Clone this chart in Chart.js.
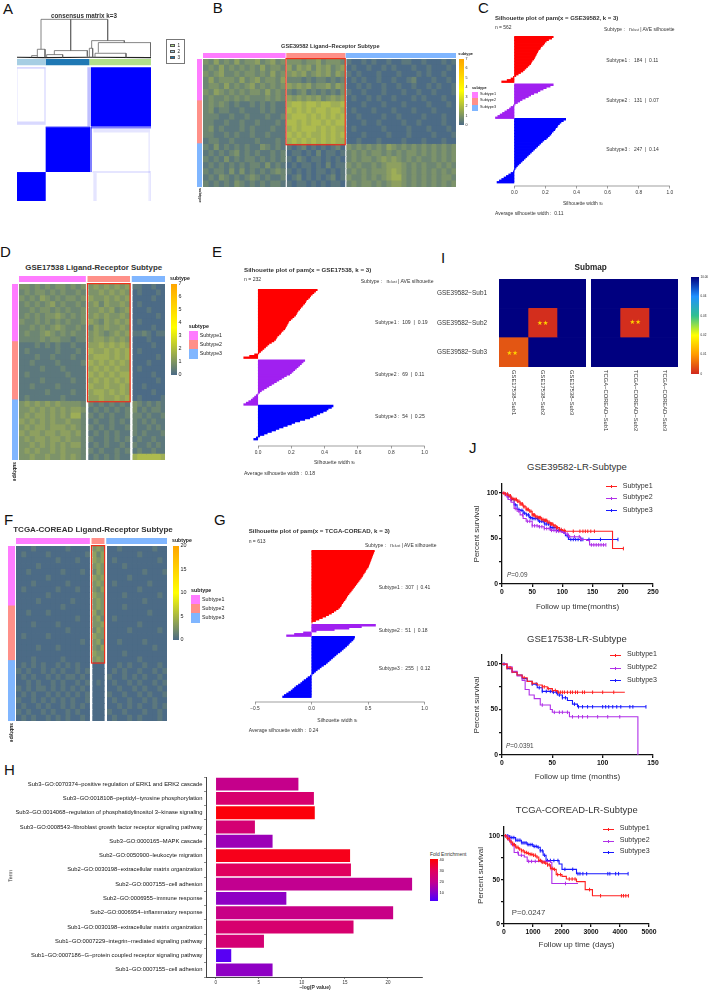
<!DOCTYPE html>
<html>
<head>
<meta charset="utf-8">
<title>Ligand-receptor subtypes</title>
<script src="https://cdn.jsdelivr.net/npm/chart.js@4/dist/chart.umd.js"></script>
<style>
  html, body { margin: 0; background: #fff; }
  #fig { position: relative; width: 710px; height: 991px; overflow: hidden; font-family: "Liberation Sans", Arial, sans-serif; color: #222; }
  #fig canvas { position: absolute; }
  .t { position: absolute; white-space: nowrap; line-height: 1; }
  .t sub { font-size: 70%; vertical-align: -12%; line-height: 0; }
  .b { position: absolute; }
</style>
</head>
<body>
<div id="fig"></div>
<script>
// ---- data ----

// panel A, consensus matrix blocks: x0, x1, y0, y1, opacity of blue
const consensusX0 = [273, 137, 51, 262, 268, 273, 137, 51, 51, 133, 51, 280, 445, 278, 280, 450, 133];
const consensusX1 = [453, 270, 137, 273, 276, 453, 270, 137, 137, 137, 54, 450, 450, 453, 290, 453, 137];
const consensusY0 = [202, 382, 517, 202, 382, 380, 380, 202, 365, 206, 206, 386, 398, 514, 520, 520, 517];
const consensusY1 = [380, 517, 604, 380, 517, 386, 383, 206, 375, 365, 365, 398, 604, 520, 604, 604, 604];
const consensusA = [1, 1, 1, 0.25, 0.5, 0.5, 0.7, 0.2, 0.15, 0.15, 0.06, 0.1, 0.08, 0.1, 0.1, 0.1, 0.3];
const clusterX0 = [51, 137, 268];
const clusterX1 = [137, 268, 453];
const clusterColors = ["#a6cee3", "#1f78b4", "#b2df8a"];
const dendroX = [123, 123, 323, 323, null, 212, 212, null, 112, 112, 135, 135, null, 163, 163, 262, 262, null, 140, 140, 188, 188, null, 95, 95, 112, null, 275, 275, 373, 373, null, 295, 295, 452, 452, null, 285, 285, 378, 378, null, 268, 268, 278, 278];
const dendroY = [148, 58, 58, 122, null, 58, 152, null, 172, 148, 148, 172, null, 164, 152, 152, 170, null, 172, 164, 164, 172, null, 172, 167, 167, null, 145, 122, 122, 128, null, 158, 128, 128, 170, null, 172, 160, 160, 172, null, 172, 145, 145, 172];
const dendroBaseX = [51, 137, 268, 453];
const dendroBaseY = [172, 173, 172, 173];

// heatmaps: one string per row, one digit per cell (0 low .. 9 high), space between column groups
const heatB = [
  "3242324233423423 333233423332 1001010010011001000101",
  "2324232323242332 424342434234 0100100101000100100010",
  "3234223233232423 343423434243 1010001000100010100100",
  "2423332423423324 222121221212 0101001001001200010010",
  "2332423234232323 434342334243 0010100100100100101001",
  "3243232323324232 212312121213 1001000100010010010001",
  "2322323232223232 434343423434 0100101001000101000100",
  "2323212112121211 566566566556 0001000100010000100010",
  "2312211211121211 656565665665 0100010001000100010000",
  "2221121121112112 566656565656 0010000100100001000100",
  "2211211211211121 665656656566 0001001000010010000100",
  "2312111212111211 565666565655 0100000100001000100010",
  "2211212112112111 656565565656 0001000010001000010001",
  "1221121111211121 565656565655 0010001000010001000100",
  "2131212121132121 101201010120 3232323243232323232323",
  "1212123121211212 011010201101 2323233232323323232323",
  "2121312122121212 102101101010 2323323434323232232323",
  "1212121212213121 010110102011 3232232344432323223232",
  "2122131312121232 101010110101 2323233345432323232323",
  "1213212123212112 012010101201 3223232345532323232332",
  "2121213212121221 101101010110 2323323234432323232323"
];
const heatD = [
  "3323232332323 34343434 1100100",
  "2323323232232 33434343 0100010",
  "3232432323323 43343434 0000100",
  "2323234232232 34243343 0100000",
  "2232332323223 33434234 0001000",
  "2323233432323 34343343 0000010",
  "3223232323223 43243434 0100000",
  "2232323432232 24343343 0000100",
  "2322343232322 34323434 1121011",
  "2222323322122 34434343 0001000",
  "1112121211211 44545454 0000100",
  "1211111211121 54454545 0100000",
  "1112112111211 45554545 0000010",
  "1121111211112 54545454 0001000",
  "1111211121111 45454544 0100000",
  "1211111112111 54545455 0000100",
  "1111211111211 45454545 0000010",
  "1121111211111 54454454 0010000",
  "1111121111211 45545454 0000100",
  "1211111121111 44544545 0100001",
  "3434343433332 21212121 3212121",
  "3343434343443 12121212 3121221",
  "3434434343552 21212112 2212112",
  "4343434334332 12112121 2121211",
  "3434434443432 21212112 2112121",
  "4344344344342 12121211 2121112",
  "3434434434332 21121212 1211211",
  "3343434343442 12121121 2112121",
  "3434334343332 21211212 1211211",
  "3343343343432 12121211 5666665"
];
const heatF = [
  "000100000010000 343 001000000100",
  "010000100000001 424 000000100000",
  "000000001000100 434 010000000010",
  "000010000000000 343 000100000000",
  "001000000100010 243 000000010001",
  "000000100000000 434 000010000000",
  "000100000010000 343 010000001000",
  "010000001000100 324 000000100000",
  "000000100000000 433 000100000010",
  "000010000001000 343 000000010000",
  "000000000100000 343 000100000000",
  "001000100000000 423 000000001000",
  "000000000000100 342 010000000000",
  "000100001000000 334 000000100000",
  "000000000010000 243 000010000010",
  "010000100000000 433 000000000000",
  "000000000000010 342 001000010000",
  "000010001000000 324 000000000100",
  "000000000000000 433 000100000000",
  "000100000100000 343 000000100000",
  "010101001010100 000 001010010010",
  "101001010100101 000 010100100101",
  "010100101011010 000 100101010010",
  "001010010100101 010 010010100101",
  "101011010101010 000 001001010010",
  "010100101010101 000 100100101001",
  "100101010101001 000 010010010100",
  "010010100101010 000 001010100101",
  "101001010010100 000 100100010010",
  "010100101010010 000 010010100010"
];
const subtypeColors = ["#ff7cff", "#ff9089", "#80b6ff"];

// silhouette widths, one list per subtype, top to bottom
const silC1 = [.25, .24, .22, .205, .195, .19, .18, .17, .165, .155, .15, .145, .14, .135, .13, .125, .115, .11, .105, .095, .085, .075, .065, .055, .04, .025, .01, -.005, -.02, -.045, -.08];
const silC2 = [.25, .23, .205, .185, .165, .15, .125, .105, .09, .07, .05, .035, .02, .005, -.005, -.02, -.03, -.045, -.06, -.075, -.09, -.105, -.12];
const silC3 = [.33, .315, .30, .29, .28, .275, .265, .26, .25, .24, .235, .225, .215, .205, .19, .18, .17, .16, .15, .14, .13, .12, .11, .10, .09, .08, .07, .06, .05, .04, .03, .02, .012, .005, 0, -.005, -.02, -.035, -.05, -.065, -.08, -.095, -.11];
const silE1 = [.355, .345, .335, .325, .315, .31, .30, .29, .285, .28, .27, .265, .255, .25, .24, .235, .23, .225, .215, .205, .195, .185, .18, .175, .17, .165, .16, .15, .14, .135, .125, .115, .11, .105, .095, .08, .065, .055, .045, .035, .025, .015, .005, -.02, -.05, -.085];
const silE2 = [.28, .27, .26, .25, .24, .23, .22, .21, .20, .19, .17, .155, .14, .125, .11, .095, .08, .065, .05, .035, .02, .01, 0, -.01, -.02, -.03, -.04, -.055, -.07, -.085];
const silE3 = [.45, .44, .42, .41, .39, .37, .35, .33, .31, .28, .25, .22, .20, .175, .15, .125, .105, .08, .055, .035, .01, -.01, -.025];
const silG1 = [.555, .55, .545, .54, .535, .53, .525, .52, .515, .51, .505, .50, .49, .48, .475, .465, .455, .45, .44, .43, .42, .41, .40, .39, .38, .37, .36, .35, .34, .33, .32, .31, .305, .295, .285, .275, .265, .26, .25, .235, .215, .195, .175, .15, .125, .095, .065, .035, .005];
const silG2 = [.565, .44, .33, .20, .04, -.07, -.15, -.22];
const silG3 = [.38, .375, .365, .35, .335, .325, .31, .295, .28, .265, .25, .23, .215, .20, .185, .17, .155, .14, .125, .105, .085, .07, .05, .035, .02, .005, -.01, -.03, -.045, -.065, -.08, -.095, -.115, -.135, -.15, -.165, -.18, -.20, -.22, -.24, -.255];
const silColors = ["#ff0000", "#a020f0", "#0000ff"];

// submap p values
const submapRows = ["GSE39582\u2212Sub1", "GSE39582\u2212Sub2", "GSE39582\u2212Sub3"];
const submapLeftCols = ["GSE17538\u2212Sub1", "GSE17538\u2212Sub2", "GSE17538\u2212Sub3"];
const submapRightCols = ["TCGA\u2212COREAD\u2212Sub1", "TCGA\u2212COREAD\u2212Sub2", "TCGA\u2212COREAD\u2212Sub3"];
const submapLeft = [[.05, .05, .05], [.05, .0005, .05], [.004, .05, .05]];
const submapRight = [[.05, .05, .05], [.05, .0005, .05], [.05, .05, .05]];

// GO enrichment
const goTerms = [
  "Sub3\u2212GO:0070374\u2212positive regulation of ERK1 and ERK2 cascade",
  "Sub3\u2212GO:0018108\u2212peptidyl\u2212tyrosine phosphorylation",
  "Sub3\u2212GO:0014068\u2212regulation of phosphatidylinositol 3\u2212kinase signaling",
  "Sub3\u2212GO:0008543\u2212fibroblast growth factor receptor signaling pathway",
  "Sub3\u2212GO:0000165\u2212MAPK cascade",
  "Sub2\u2212GO:0050900\u2212leukocyte migration",
  "Sub2\u2212GO:0030198\u2212extracellular matrix organization",
  "Sub2\u2212GO:0007155\u2212cell adhesion",
  "Sub2\u2212GO:0006955\u2212immune response",
  "Sub2\u2212GO:0006954\u2212inflammatory response",
  "Sub1\u2212GO:0030198\u2212extracellular matrix organization",
  "Sub1\u2212GO:0007229\u2212integrin\u2212mediated signaling pathway",
  "Sub1\u2212GO:0007186\u2212G\u2212protein coupled receptor signaling pathway",
  "Sub1\u2212GO:0007155\u2212cell adhesion"
];
const goLogP = [9.6, 11.4, 11.5, 4.55, 6.6, 15.6, 15.7, 22.8, 8.2, 20.6, 16.0, 5.6, 1.8, 6.6];
const goFold = [21, 27, 40, 26, 14, 38, 30, 20, 12, 22, 27, 26, 5, 12];
const foldTicks = [10, 20, 30, 40];

// survival curves: time, percent survival, censor times
const j1T1 = [0, 5, 10, 15, 20, 25, 30, 35, 40, 45, 50, 55, 60, 65, 70, 75, 80, 85, 90, 95, 100, 105, 183, 201];
const j1S1 = [100, 99, 97, 94, 93, 91, 88, 85, 82, 80, 76, 74, 73, 71, 70, 68, 66, 64, 62, 60, 59, 58, 39, 39];
const j1C1 = [3, 6, 9, 12, 14, 16, 18, 20, 22, 24, 26, 28, 30, 32, 34, 36, 38, 40, 42, 44, 46, 48, 50, 52, 54, 56, 58, 60, 62, 64, 66, 68, 70, 72, 74, 76, 78, 80, 82, 84, 86, 88, 90, 92, 95, 98, 103, 118, 129, 134, 138, 142, 147, 153, 201];
const j1T2 = [0, 5, 10, 15, 20, 25, 30, 35, 40, 50, 60, 70, 80, 90, 100, 105, 110, 130, 140, 145, 172];
const j1S2 = [100, 97, 93, 90, 83, 80, 76, 72, 69, 64, 63, 61, 59, 58, 57, 55, 52, 49, 48, 43, 43];
const j1C2 = [8, 14, 22, 28, 34, 42, 46, 50, 54, 58, 62, 66, 70, 74, 78, 82, 86, 90, 94, 98, 102, 108, 112, 120, 128, 131, 148, 152, 156, 160, 164, 168, 172];
const j1T3 = [0, 5, 10, 15, 20, 25, 30, 35, 40, 45, 50, 60, 70, 80, 90, 100, 105, 110, 192];
const j1S3 = [100, 99, 96, 93, 87, 82, 81, 78, 76, 73, 72, 69, 66, 62, 59, 57, 53, 49, 49];
const j1C3 = [10, 16, 22, 28, 33, 37, 41, 44, 47, 50, 53, 56, 59, 62, 65, 68, 71, 74, 77, 80, 83, 86, 90, 94, 98, 103, 108, 114, 118, 122, 126, 130, 132, 134, 144, 163, 192];

const j2T1 = [0, 5, 10, 15, 20, 25, 30, 35, 40, 45, 50, 55, 122];
const j2S1 = [100, 96, 91, 88, 85, 81, 79, 77, 75, 73, 71, 69, 69];
const j2C1 = [5, 8, 22, 30, 40, 42, 46, 50, 53, 56, 58, 60, 62, 65, 68, 70, 73, 75, 80, 82, 90, 100, 111];
const j2T2 = [0, 5, 10, 15, 20, 23, 27, 32, 38, 48, 50, 67, 135];
const j2S2 = [100, 97, 92, 87, 82, 72, 66, 62, 55, 50, 47, 42, 0];
const j2C2 = [5, 10, 40, 52, 57, 60, 65, 70, 76, 80, 85, 95, 105, 117];
const j2T3 = [0, 5, 10, 15, 20, 25, 30, 35, 40, 50, 55, 60, 65, 70, 75, 143];
const j2S3 = [100, 95, 91, 88, 84, 81, 78, 74, 70, 69, 66, 63, 60, 56, 53, 53];
const j2C3 = [2, 30, 34, 37, 40, 44, 48, 51, 54, 57, 60, 63, 72, 76, 80, 85, 90, 100, 103, 106, 110, 114, 118, 127, 130, 143];

const j3T1 = [0, 100, 200, 300, 400, 500, 600, 700, 800, 900, 1000, 1100, 1200, 1300, 1400, 1500, 1600, 1700, 1800, 2000, 2150, 2500, 2800, 3050, 4300];
const j3S1 = [100, 97, 93, 90, 87, 85, 83, 81, 80, 79, 78, 76, 72, 70, 69, 67, 63, 62, 56, 54, 51, 48, 39, 32, 32];
const j3C1 = [50, 120, 180, 240, 300, 360, 420, 480, 540, 600, 660, 720, 780, 840, 900, 960, 1020, 1080, 1140, 1200, 1260, 1320, 1380, 1440, 1500, 1560, 1620, 1680, 1740, 1850, 1950, 2250, 2350, 2450, 2950, 3330, 4050, 4120, 4200, 4290];
const j3T2 = [0, 150, 250, 350, 500, 700, 800, 1600, 1650, 2550];
const j3S2 = [100, 95, 90, 81, 78, 76, 71, 70, 46, 46];
const j3C2 = [200, 330, 480, 600, 850, 950, 1080, 1300, 2120];
const j3T3 = [0, 200, 400, 600, 800, 1000, 1150, 1250, 1350, 1450, 1900, 2000, 2500, 4280];
const j3S3 = [100, 98, 95, 92, 90, 88, 87, 83, 78, 72, 68, 62, 57, 57];
const j3C3 = [60, 130, 200, 270, 340, 410, 480, 550, 620, 690, 760, 830, 900, 970, 1040, 1110, 1180, 1250, 1320, 1400, 1500, 1600, 1720, 1860, 2100, 2370, 2550, 2620, 2720, 2850, 3580, 3650, 3850, 3950, 4280];

// ---- helpers ----
Chart.defaults.font.family = '"Liberation Sans", Arial, sans-serif';
Chart.defaults.color = "#222";
Chart.defaults.devicePixelRatio = 1;

const fig = document.getElementById("fig");

function txt(text, x, y, o = {}) {
  const el = document.createElement("div");
  el.className = "t";
  el.innerHTML = text;
  el.style.fontSize = (o.size || 5) + "px";
  if (o.bold) el.style.fontWeight = "bold";
  if (o.color) el.style.color = o.color;
  if (o.font) el.style.fontFamily = o.font;
  el.style.left = x + "px";
  el.style.top = y + "px";
  if (o.vertical) {
    el.style.writingMode = "vertical-rl";
    el.style.transform = "translateX(-50%)";
  } else if (o.rotate) {
    el.style.transform = `translate(-50%,-50%) rotate(${o.rotate}deg)`;
  } else {
    el.style.transform = o.center ? "translate(-50%,-50%)" : "translateY(-50%)";
  }
  fig.appendChild(el);
}

function box(x, y, w, h, color, border) {
  const el = document.createElement("div");
  el.className = "b";
  el.style.cssText = `left:${x}px;top:${y}px;width:${w}px;height:${h}px;box-sizing:border-box;` +
    (color ? `background:${color};` : "") + (border ? `border:${border};` : "");
  fig.appendChild(el);
}

function blank(extra) {
  return { display: true, grid: { display: false }, ticks: { display: false }, border: { display: false }, ...extra };
}

function noPadding(s) {
  s.paddingTop = s.paddingBottom = s.paddingLeft = s.paddingRight = 0;
}

// area = [left, top, right, bottom] of the plot on the page, pad = room round it for the axes
function makeChart(area, pad, config) {
  const c = document.createElement("canvas");
  const w = area[2] - area[0] + pad.l + pad.r;
  const h = area[3] - area[1] + pad.t + pad.b;
  c.width = Math.round(w);
  c.height = Math.round(h);
  c.style.left = area[0] - pad.l + "px";
  c.style.top = area[1] - pad.t + "px";
  c.style.width = Math.round(w) + "px";
  c.style.height = Math.round(h) + "px";
  fig.appendChild(c);
  const scales = config.options.scales;
  const yRight = scales.y.position === "right";
  scales.x.afterFit = (s) => { s.height = pad.b; noPadding(s); };
  scales.y.afterFit = (s) => { s.width = yRight ? pad.r : pad.l; noPadding(s); };
  config.options = {
    responsive: false,
    animation: false,
    layout: { autoPadding: false, padding: { top: pad.t, left: yRight ? pad.l : 0, right: yRight ? 0 : pad.r, bottom: 0 } },
    ...config.options,
    plugins: { legend: { display: false }, tooltip: { enabled: false }, ...(config.options.plugins || {}) }
  };
  return new Chart(c.getContext("2d"), config);
}

function mix(a, b, t) {
  return a.map((v, i) => Math.round(v + (b[i] - v) * t));
}
function hexRgb(h) {
  return [1, 3, 5].map((i) => parseInt(h.substr(i, 2), 16));
}
function ramp(stops, v) {
  for (let i = 1; i < stops.length; i++) {
    if (v <= stops[i][0]) {
      const t = (v - stops[i - 1][0]) / (stops[i][0] - stops[i - 1][0]);
      return "rgb(" + mix(hexRgb(stops[i - 1][1]), hexRgb(stops[i][1]), Math.max(t, 0)).join(",") + ")";
    }
  }
  return stops[stops.length - 1][1];
}

const SLATE = [76, 107, 134];
const YELLOW = [240, 240, 40];
function levelColor(d) {
  return "rgb(" + mix(SLATE, YELLOW, d / 10).join(",") + ")";
}

const redBox = {
  id: "redBox",
  afterDatasetsDraw(chart, args, o) {
    if (!o.x0 && !o.x1) return;
    const { x, y } = chart.scales;
    const ctx = chart.ctx;
    ctx.save();
    ctx.strokeStyle = "#f03018";
    ctx.lineWidth = 1.2;
    const left = x.getPixelForValue(o.x0) - 0.4;
    const right = x.getPixelForValue(o.x1) + 0.4;
    const top = chart.chartArea.top - 0.4;
    const bottom = y.getPixelForValue(o.rows - 0.5) + 0.4;
    ctx.strokeRect(left, top, right - left, bottom - top);
    ctx.restore();
  }
};

function heatChart(area, rows, widths, gap, boxRows) {
  const parsed = rows.map((r) => r.split(" "));
  const datasets = [];
  let pos = 0, x0 = 0, x1 = 0;
  widths.forEach((w, g) => {
    if (g === 1) x0 = pos;
    const n = parsed[0][g].length;
    for (let c = 0; c < n; c++) {
      datasets.push({ data: parsed.map(() => w / n), backgroundColor: parsed.map((r) => levelColor(+r[g][c])) });
    }
    pos += w;
    if (g === 1) x1 = pos;
    if (g < widths.length - 1) {
      datasets.push({ data: parsed.map(() => gap), backgroundColor: "#fff" });
      pos += gap;
    }
  });
  makeChart(area, { l: 2, t: 2, r: 2, b: 2 }, {
    type: "bar",
    plugins: [redBox],
    data: { labels: rows.map((r, i) => i), datasets },
    options: {
      indexAxis: "y",
      datasets: { bar: { barPercentage: 1, categoryPercentage: 1, borderWidth: 0, inflateAmount: 0.4 } },
      scales: { x: blank({ stacked: true, min: 0, max: pos }), y: blank({ stacked: true }) },
      plugins: { redBox: { x0, x1, rows: boxRows } }
    }
  });
}

function strip(area, sizes, colors, vertical) {
  const total = sizes.reduce((a, b) => a + b, 0);
  makeChart(area, { l: 0, t: 0, r: 0, b: 0 }, {
    type: "bar",
    data: {
      labels: [""],
      datasets: sizes.map((s, i) => ({ data: [s], backgroundColor: colors[i] }))
    },
    options: {
      indexAxis: vertical ? "x" : "y",
      datasets: { bar: { barPercentage: 1, categoryPercentage: 1, borderWidth: 0 } },
      scales: {
        x: vertical ? blank({ stacked: true }) : blank({ stacked: true, min: 0, max: total }),
        y: vertical ? blank({ stacked: true, min: 0, max: total, reverse: true }) : blank({ stacked: true })
      }
    }
  });
}

function colorBar(area, padR, min, max, stops, ticks, size, labels) {
  makeChart(area, { l: 0, t: 3, r: padR, b: 3 }, {
    type: "bar",
    data: {
      labels: [""],
      datasets: [{
        data: [[min, max]],
        barPercentage: 1,
        categoryPercentage: 1,
        backgroundColor: (c) => {
          const a = c.chart.chartArea;
          if (!a) return "#000";
          const g = c.chart.ctx.createLinearGradient(0, a.bottom, 0, a.top);
          stops.forEach((s) => g.addColorStop(s[0], s[1]));
          return g;
        }
      }]
    },
    options: {
      scales: {
        x: blank(),
        y: {
          position: "right", min, max,
          grid: { display: false, drawTicks: false }, border: { display: false },
          afterBuildTicks: (s) => { s.ticks = ticks.map((value) => ({ value })); },
          ticks: { font: { size }, padding: 1.5, color: "#222", callback: (v) => labels ? labels[ticks.indexOf(v)] : v }
        }
      }
    }
  });
}

// R style axis: line only from first to last tick
const rAxis = {
  id: "rAxis",
  afterDraw(chart) {
    const s = chart.scales.x;
    const ctx = chart.ctx;
    ctx.save();
    ctx.strokeStyle = "#777";
    ctx.lineWidth = 0.7;
    ctx.beginPath();
    ctx.moveTo(s.getPixelForValue(s.ticks[0].value), s.top);
    ctx.lineTo(s.getPixelForValue(s.ticks[s.ticks.length - 1].value), s.top);
    ctx.stroke();
    ctx.restore();
  }
};

function silhouette(area, xMin, xMax, ticks, groups, gaps, blankRows) {
  const rows = [];
  const sets = groups.map(() => []);
  groups.forEach((g, k) => {
    g.forEach((v) => {
      sets.forEach((s, j) => s.push(j === k ? v : null));
      rows.push(rows.length);
    });
    for (let i = 0; i < gaps[k]; i++) {
      sets.forEach((s) => s.push(null));
      rows.push(rows.length);
    }
  });
  for (let i = 0; i < blankRows; i++) {
    sets.forEach((s) => s.push(null));
    rows.push(rows.length);
  }
  makeChart(area, { l: 10, t: 1, r: 6, b: 16 }, {
    type: "bar",
    plugins: [rAxis],
    data: {
      labels: rows,
      datasets: sets.map((data, i) => ({ data, backgroundColor: silColors[i] }))
    },
    options: {
      indexAxis: "y",
      datasets: { bar: { grouped: false, barPercentage: 1, categoryPercentage: 1, borderWidth: 0, inflateAmount: 0.4 } },
      scales: {
        y: blank(),
        x: {
          min: xMin, max: xMax,
          border: { display: false },
          grid: { drawOnChartArea: false, drawTicks: true, tickLength: 2.5, color: "#777", lineWidth: 0.7 },
          afterBuildTicks: (s) => { s.ticks = ticks.map((value) => ({ value })); },
          ticks: { font: { size: 4.8 }, padding: 1.5, color: "#333", maxRotation: 0, autoSkip: false, callback: (v) => v.toFixed(1).replace("-", "\u2212") }
        }
      }
    }
  });
}

function stepAt(T, S, t) {
  let v = S[0];
  T.forEach((x, i) => { if (x <= t) v = S[i]; });
  return v;
}

const kmColors = ["#ff2020", "#b030e8", "#1818ff"];

function km(area, pad, xMax, xStep, curves, xTitle) {
  const datasets = [];
  curves.forEach((c, i) => {
    datasets.push({
      data: c[0].map((x, k) => ({ x, y: c[1][k] })),
      showLine: true, stepped: true, borderColor: kmColors[i], borderWidth: 1.1, pointRadius: 0
    });
    datasets.push({
      data: c[2].map((x) => ({ x, y: stepAt(c[0], c[1], x) })),
      showLine: false, pointStyle: "line", rotation: 90, pointRadius: 1.8, pointBorderColor: kmColors[i], borderColor: kmColors[i], pointBorderWidth: 1, clip: false
    });
  });
  const axis = {
    border: { color: "#111", width: 1.3 },
    grid: { drawOnChartArea: false, drawTicks: true, tickLength: 3, color: "#111", lineWidth: 1.3 }
  };
  makeChart(area, pad, {
    type: "scatter",
    data: { datasets },
    options: {
      scales: {
        x: {
          ...axis, min: 0, max: xMax,
          ticks: { stepSize: xStep, font: { size: 6.8, weight: "bold" }, color: "#111", padding: 1, maxRotation: 0, callback: (v) => String(v) },
          title: { display: true, text: xTitle, font: { size: 8 }, color: "#333", padding: 0 }
        },
        y: {
          ...axis, min: 0, max: 110,
          ticks: { stepSize: 25, includeBounds: false, font: { size: 6.8, weight: "bold" }, color: "#111", padding: 1, callback: (v) => (v % 50 === 0 ? String(v) : "") },
          title: { display: true, text: "Percent survival", font: { size: 8 }, color: "#333", padding: 0 }
        }
      }
    }
  });
}

function kmLegend(x0, x1, textX, ys) {
  ys.forEach((y, i) => {
    box(x0, y - 0.4, x1 - x0, 0.9, kmColors[i]);
    box((x0 + x1) / 2 - 0.4, y - 1.5, 0.8, 3, kmColors[i]);
    txt("Subtype" + (i + 1), textX, y, { size: 7.1, color: "#333" });
  });
}

function subtypeLegend(x, titleY, swatchY, swatchW, swatchH, labelX, size) {
  txt("subtype", x, titleY, { size: size, bold: true });
  subtypeColors.forEach((col, i) => {
    box(x, swatchY + i * swatchH, swatchW, swatchH, col);
    txt("Subtype" + (i + 1), labelX, swatchY + (i + 0.5) * swatchH, { size: size });
  });
}

// ---- panel letters ----
[["A", 3, 8], ["B", 212.7, 7], ["C", 478, 7], ["D", 0, 251], ["E", 212, 251], ["F", 4, 519], ["G", 214, 519], ["H", 4, 769], ["I", 441, 257], ["J", 469, 447]]
  .forEach((p) => txt(p[0], p[1], p[2], { size: 15, color: "#111" }));

// ---- A ----
{
  const sets = [];
  consensusX0.forEach((x0, i) => {
    const x1 = consensusX1[i];
    sets.push({
      data: [{ x: (x0 + x1) / 2, y: [consensusY0[i], consensusY1[i]] }],
      barThickness: (x1 - x0) / 3, backgroundColor: `rgba(0,0,255,${consensusA[i]})`, stack: "a"
    });
  });
  clusterX0.forEach((x0, i) => {
    const x1 = clusterX1[i];
    sets.push({
      data: [{ x: (x0 + x1) / 2, y: [177, 196] }],
      barThickness: (x1 - x0) / 3, backgroundColor: clusterColors[i], stack: "a"
    });
  });
  sets.push({
    type: "line", data: dendroX.map((x, i) => ({ x, y: dendroY[i] })),
    borderColor: "#666", borderWidth: 0.8, pointRadius: 0, spanGaps: false
  });
  sets.push({
    type: "line", data: dendroBaseX.map((x, i) => ({ x, y: dendroBaseY[i] })),
    borderColor: "#222", borderWidth: 1.2, pointRadius: 0
  });
  makeChart([17, 18, 151, 201.3], { l: 1, t: 1, r: 1, b: 1 }, {
    type: "bar",
    data: { datasets: sets },
    options: {
      datasets: { bar: { borderWidth: 0, inflateAmount: 0 } },
      scales: {
        x: blank({ type: "linear", min: 51, max: 453, stacked: true, offset: false }),
        y: blank({ min: 54, max: 604, reverse: true, stacked: false })
      }
    }
  });
  txt("consensus matrix k=3", 84, 16, { size: 6.3, bold: true, center: true, color: "#333" });
  box(166, 38.7, 19, 25.3, null, "0.7px solid #777");
  ["#b2df8a", "#a6cee3", "#1f78b4"].forEach((c, i) => {
    box(170.3, 43.7 + i * 6.1, 4.7, 3.6, c, "0.4px solid #555");
    txt(String(i + 1), 177.5, 45.5 + i * 6.1, { size: 4.6 });
  });
}

// ---- B ----
{
  txt("GSE39582 Ligand\u2212Receptor Subtype", 330.3, 47, { size: 5.6, bold: true, center: true, color: "#333" });
  strip([202.7, 52.7, 455.7, 57.3], [82.3, 1.3, 58.4, 1, 110], [subtypeColors[0], "rgba(0,0,0,0)", subtypeColors[1], "rgba(0,0,0,0)", subtypeColors[2]]);
  strip([197.3, 59, 202, 187], [41, 43, 44], subtypeColors, true);
  heatChart([202.7, 59, 455.7, 187], heatB, [82.3, 58.4, 110], 1.15, 14);
  txt("subtype", 198.7, 188, { size: 3.8, vertical: true, bold: true });
  txt("subtype", 458.3, 55, { size: 3.8, bold: true });
  colorBar([459.3, 59, 464, 125], 10, 0, 7, [[0, "#4c6b86"], [0.52, "#ffff00"], [1, "#ffa500"]], [0, 1, 2, 3, 4, 5, 6, 7], 3.6);
  subtypeLegend(472, 89.3, 92, 6.2, 6.3, 480, 3.8);
}

// ---- D ----
{
  txt("GSE17538 Ligand-Receptor Subtype", 93.7, 268.3, { size: 7.9, bold: true, center: true, color: "#333" });
  strip([19.3, 275.7, 165.7, 282], [66.7, 2.3, 42, 2.4, 33], [subtypeColors[0], "rgba(0,0,0,0)", subtypeColors[1], "rgba(0,0,0,0)", subtypeColors[2]]);
  strip([11.7, 283.7, 17.7, 460], [57, 58.3, 61], subtypeColors, true);
  heatChart([19.3, 283.7, 165.7, 460], heatD, [66.7, 42, 33], 2.35, 20);
  txt("subtype", 14.7, 462, { size: 5, vertical: true, bold: true });
  txt("subtype", 170, 279, { size: 5.2, bold: true });
  colorBar([171, 283.7, 177, 375], 12, 0, 7, [[0, "#4c6b86"], [0.52, "#ffff00"], [1, "#ffa500"]], [0, 1, 2, 3, 4, 5, 6, 7], 5.4);
  subtypeLegend(188.7, 327, 331, 9, 9.2, 199.7, 5.3);
}

// ---- F ----
{
  txt("TCGA-COREAD Ligand-Receptor Subtype", 93, 530, { size: 8, bold: true, center: true, color: "#333" });
  strip([16.3, 538, 167, 544], [73.4, 2.3, 12.3, 2.4, 60.3], [subtypeColors[0], "rgba(0,0,0,0)", subtypeColors[1], "rgba(0,0,0,0)", subtypeColors[2]]);
  strip([8.3, 545.7, 15, 721], [59.3, 54.7, 61.3], subtypeColors, true);
  heatChart([16.3, 545.7, 167, 721], heatF, [73.4, 12.3, 60.3], 2.35, 20);
  txt("subtype", 11, 723, { size: 5, vertical: true, bold: true });
  txt("subtype", 172, 541.3, { size: 5.2, bold: true });
  colorBar([173, 545.7, 179.3, 640], 12, 0, 20, [[0, "#4c6b86"], [0.5, "#ffff00"], [1, "#ffa500"]], [0, 5, 10, 15, 20], 5.4);
  subtypeLegend(191, 590.7, 595, 9, 9.2, 202, 5.3);
}

// ---- C E G ----
function silhouetteText(x, title, n, ave, hx, hy, lines, lx, titleSize, size, axisX, axisY, aveY) {
  txt("Silhouette plot of pam(x = " + title + ", k = 3)", x, lines.titleY, { size: titleSize, bold: true, color: "#333" });
  txt("n = " + n, x, lines.nY, { size: size, color: "#333" });
  txt("Subtype :&nbsp;&nbsp; n<sub>clust</sub> | AVE silhouette", hx, hy, { size: size, color: "#333" });
  lines.rows.forEach((r) => txt(r[0], lx, r[1], { size: size, color: "#333" }));
  txt("Silhouette width s<sub>i</sub>", axisX, axisY, { size: size, center: true, color: "#333" });
  txt("Average silhouette width :&nbsp; " + ave, x, aveY, { size: size, color: "#333" });
}

silhouette([493.5, 36, 672.4, 186], -0.13, 1.02, [0, .2, .4, .6, .8, 1], [silC1, silC2, silC3], [1, 0, 0], 2);
silhouetteText(495, "GSE39582", 562, "0.11", 604, 30, {
  titleY: 17.7, nY: 27.7,
  rows: [["Subtype1 :&nbsp;&nbsp; 184&nbsp; |&nbsp; 0.11", 60.7], ["Subtype2 :&nbsp;&nbsp; 131&nbsp; |&nbsp; 0.07", 101], ["Subtype3 :&nbsp;&nbsp; 247&nbsp; |&nbsp; 0.14", 150]]
}, 606.3, 6, 4.95, 582.7, 204, 214);

silhouette([243.3, 289, 428.6, 445.7], -0.09, 1.02, [0, .2, .4, .6, .8, 1], [silE1, silE2, silE3], [1, 0, 0], 4);
silhouetteText(244, "GSE17538", 232, "0.18", 360.7, 282, {
  titleY: 270.3, nY: 280,
  rows: [["Subtype1 :&nbsp; 109&nbsp; |&nbsp; 0.19", 323.3], ["Subtype2 :&nbsp; 69&nbsp; |&nbsp; 0.11", 375], ["Subtype3 :&nbsp; 54&nbsp; |&nbsp; 0.25", 417]]
}, 375, 6.2, 5.1, 334.3, 463, 474);

silhouette([255.3, 549.7, 428.7, 702], -0.5, 1.03, [-.5, 0, .5, 1], [silG1, silG2, silG3], [1, 0, 0], 3);
silhouetteText(248.7, "TCGA-COREAD", 613, "0.24", 365, 545, {
  titleY: 531, nY: 541,
  rows: [["Subtype1 :&nbsp; 307&nbsp; |&nbsp; 0.41", 586.7], ["Subtype2 :&nbsp; 51&nbsp; |&nbsp; 0.18", 629.7], ["Subtype3 :&nbsp; 255&nbsp; |&nbsp; 0.12", 668]]
}, 378.7, 6.1, 5, 337.3, 720, 730);

// ---- H ----
const foldStops = [[3.2, "#4a00ff"], [12, "#8f00c4"], [20, "#c20090"], [30, "#e0005f"], [41, "#ff0000"]];
makeChart([206.3, 776.9, 422, 977.3], { l: 206, t: 1, r: 2, b: 12 }, {
  type: "bar",
  data: {
    labels: goTerms,
    datasets: [{ data: goLogP, backgroundColor: goFold.map((v) => ramp(foldStops, v)), barPercentage: 0.9, categoryPercentage: 1 }]
  },
  options: {
    indexAxis: "y",
    scales: {
      y: {
        border: { color: "#444", width: 1 },
        grid: { drawOnChartArea: false, tickLength: 2, color: "#444", lineWidth: 0.6 },
        ticks: { autoSkip: false, font: { size: 5.8 }, color: "#111", padding: 1.5 }
      },
      x: {
        min: -1.13, max: 23.95,
        border: { color: "#444", width: 1 },
        grid: { drawOnChartArea: false, tickLength: 2, color: "#444", lineWidth: 0.6 },
        afterBuildTicks: (s) => { s.ticks = [0, 5, 10, 15, 20].map((value) => ({ value })); },
        ticks: { font: { size: 4.5 }, color: "#333", padding: 1, maxRotation: 0 }
      }
    }
  }
});
txt("Term", 11, 876, { size: 5.4, rotate: -90, color: "#333" });
txt("\u2212log(P value)", 315, 987, { size: 5, bold: true, center: true, color: "#333" });
txt("Fold Enrichment", 430, 854, { size: 5, color: "#333" });
colorBar([430, 859.3, 438.3, 901.7], 10, 3.2, 40.6,
  foldStops.map((s) => [Math.min((s[0] - 3.2) / 37.4, 1), s[1]]), foldTicks, 4);

// ---- I ----
const submapStops = [[0, "#d1281f"], [0.01, "#ff9a00"], [0.02, "#ffff00"], [0.03, "#30c090"], [0.04, "#1e90ff"], [0.05, "#000080"]];

function submap(area, pad, matrix, showRows) {
  makeChart(area, pad, {
    type: "bar",
    data: {
      labels: submapRows,
      datasets: [0, 1, 2].map((c) => ({
        data: matrix.map(() => 1),
        backgroundColor: matrix.map((r) => ramp(submapStops, r[c]))
      }))
    },
    options: {
      indexAxis: "y",
      datasets: { bar: { barPercentage: 1, categoryPercentage: 1, borderWidth: 0, inflateAmount: 0.3 } },
      scales: {
        x: blank({ stacked: true, min: 0, max: 3 }),
        y: blank({ stacked: true, ticks: { display: showRows, padding: 4, font: { size: 6.4 }, color: "#333", autoSkip: false } })
      }
    }
  });
}
txt("Submap", 590.7, 268.3, { size: 8.2, bold: true, center: true, color: "#222" });
submap([498.7, 278.7, 586, 366.3], { l: 62, t: 1, r: 1, b: 1 }, submapLeft, true);
submap([591, 278.7, 678.3, 366.3], { l: 1, t: 1, r: 1, b: 1 }, submapRight, false);
submapLeftCols.forEach((s, i) => txt(s, 513.3 + i * 29.1, 370, { size: 5.8, vertical: true, color: "#333" }));
submapRightCols.forEach((s, i) => txt(s, 605.6 + i * 29.1, 370, { size: 5.8, vertical: true, color: "#333" }));
[[542.7, 323.3], [512.3, 352.7], [635.3, 322.3]].forEach((p) =>
  txt("\u2605\u2605", p[0], p[1], { size: 6.4, center: true, color: "#ffd400", font: '"DejaVu Sans"' }));
colorBar([690.7, 277.3, 698.3, 374], 10, 0, 0.05,
  submapStops.map((s) => [s[0] / 0.05, s[1]]), [0, .01, .02, .03, .04, .05], 3, ["0", "0.01", "0.02", "0.03", "0.04", "10.00"]);

// ---- J ----
km([501.7, 483.6, 652.7, 584], { l: 30, t: 2, r: 10, b: 28 }, 250, 50,
  [[j1T1, j1S1, j1C1], [j1T2, j1S2, j1C2], [j1T3, j1S3, j1C3]], "Follow up time(months)");
txt("GSE39582-LR-Subtype", 577, 467, { size: 9.5, center: true, color: "#333" });
kmLegend(605.7, 616.7, 622.7, [486.7, 498.3, 510.7]);
txt("<i>P</i>=0.09", 507, 575, { size: 6.4, color: "#444" });

km([501.7, 655.2, 652.3, 755.3], { l: 30, t: 2, r: 10, b: 27 }, 150, 50,
  [[j2T1, j2S1, j2C1], [j2T2, j2S2, j2C2], [j2T3, j2S3, j2C3]], "Follow up time (months)");
txt("GSE17538-LR-Subtype", 577, 639, { size: 9.5, center: true, color: "#333" });
kmLegend(610, 620.7, 627, [655.3, 668.3, 680.7]);
txt("<i>P</i>=0.0391", 506, 745.7, { size: 6.4, color: "#444" });

km([504.3, 826.9, 649.3, 923.7], { l: 28, t: 2, r: 12, b: 26 }, 5000, 1000,
  [[j3T1, j3S1, j3C1], [j3T2, j3S2, j3C2], [j3T3, j3S3, j3C3]], "Follow up time (days)");
txt("TCGA-COREAD-LR-Subtype", 576.7, 809.7, { size: 9.4, center: true, color: "#333" });
kmLegend(603, 614, 619.7, [829.3, 841, 852.3]);
txt("P=0.0247", 511.7, 912.7, { size: 7.8, color: "#444" });
</script>
</body>
</html>
